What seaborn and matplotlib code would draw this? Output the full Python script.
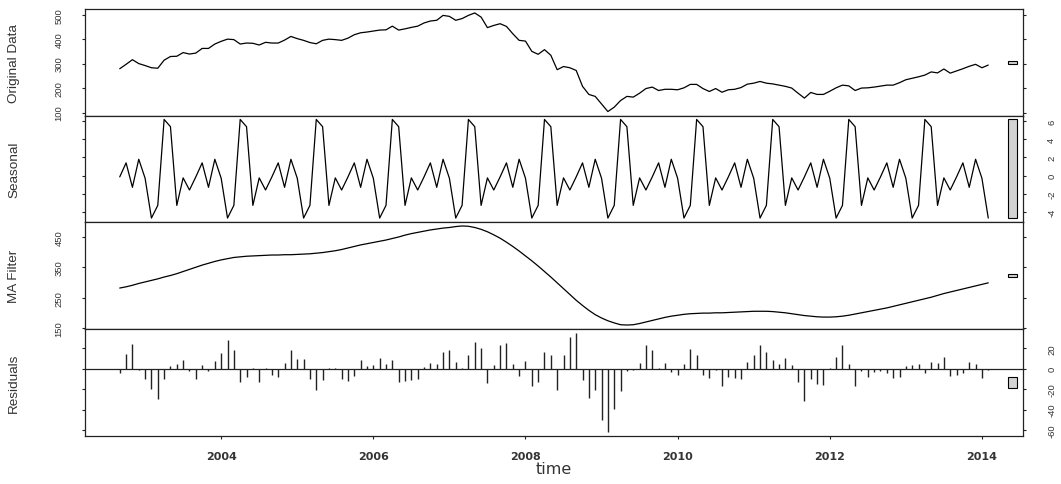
import numpy as np
import matplotlib
matplotlib.use("Agg")
import matplotlib.pyplot as plt
import seaborn as sns
from matplotlib import font_manager

# Monthly series, September 2002 .. February 2014
start_year = 2002
start_month = 9

original = [
    279, 297, 316, 300, 292, 283, 281, 314, 329, 330, 345, 339,
    343, 362, 362, 380, 391, 400, 398, 380, 384, 383, 376, 387,
    384, 384, 396, 411, 402, 395, 386, 381, 395, 400, 398, 395,
    404, 418, 426, 429, 433, 437, 438, 453, 437, 442, 448, 453,
    466, 474, 477, 497, 493, 477, 484, 497, 507, 490, 447, 456,
    463, 452, 422, 395, 392, 350, 338, 357, 334, 275, 288, 283,
    272, 207, 174, 166, 135, 104, 122, 149, 166, 163, 179, 198,
    204, 190, 195, 195, 193, 201, 215, 215, 198, 186, 198, 183,
    193, 195, 202, 216, 220, 227, 220, 217, 212, 207, 200, 179,
    159, 182, 174, 174, 187, 201, 212, 209, 190, 200, 201, 204,
    208, 212, 212, 222, 234, 240, 246, 253, 266, 262, 278, 261,
    270, 279, 289, 297, 283, 294,
]

seasonal = [
    -0.15, 1.4, -1.3, 1.8, -0.3, -4.7, -3.3, 6.2, 5.4, -3.3, -0.26, -1.6,
    -0.15, 1.4, -1.3, 1.8, -0.3, -4.7, -3.3, 6.2, 5.4, -3.3, -0.26, -1.6,
    -0.15, 1.4, -1.3, 1.8, -0.3, -4.7, -3.3, 6.2, 5.4, -3.3, -0.26, -1.6,
    -0.15, 1.4, -1.3, 1.8, -0.3, -4.7, -3.3, 6.2, 5.4, -3.3, -0.26, -1.6,
    -0.15, 1.4, -1.3, 1.8, -0.3, -4.7, -3.3, 6.2, 5.4, -3.3, -0.26, -1.6,
    -0.15, 1.4, -1.3, 1.8, -0.3, -4.7, -3.3, 6.2, 5.4, -3.3, -0.26, -1.6,
    -0.15, 1.4, -1.3, 1.8, -0.3, -4.7, -3.3, 6.2, 5.4, -3.3, -0.26, -1.6,
    -0.15, 1.4, -1.3, 1.8, -0.3, -4.7, -3.3, 6.2, 5.4, -3.3, -0.26, -1.6,
    -0.15, 1.4, -1.3, 1.8, -0.3, -4.7, -3.3, 6.2, 5.4, -3.3, -0.26, -1.6,
    -0.15, 1.4, -1.3, 1.8, -0.3, -4.7, -3.3, 6.2, 5.4, -3.3, -0.26, -1.6,
    -0.15, 1.4, -1.3, 1.8, -0.3, -4.7, -3.3, 6.2, 5.4, -3.3, -0.26, -1.6,
    -0.15, 1.4, -1.3, 1.8, -0.3, -4.7,
]

ma_filter = [
    282, 286, 291, 297, 302, 307, 312, 318, 323, 329, 336, 343,
    350, 357, 363, 369, 374, 378, 382, 384, 386, 387, 388, 389,
    390, 390, 391, 391, 392, 393, 394, 396, 398, 401, 404, 408,
    413, 418, 423, 427, 431, 435, 439, 444, 449, 455, 460, 464,
    468, 472, 475, 478, 480, 483, 485, 484, 480, 474, 466, 456,
    445, 432, 418, 403, 387, 371, 354, 336, 318, 299, 280, 261,
    242, 225, 209, 195, 184, 175, 168, 162, 161, 162, 166, 171,
    176, 181, 186, 190, 193, 196, 198, 199, 200, 200, 201, 201,
    202, 203, 204, 205, 206, 206, 206, 205, 203, 201, 198, 195,
    192, 190, 188, 187, 187, 188, 190, 193, 197, 201, 205, 209,
    213, 217, 222, 227, 232, 237, 242, 247, 252, 258, 264, 269,
    274, 279, 284, 289, 294, 299,
]

residuals = [
    -4, 14.7, 24.5, -1.6, -9.8, -20, -29.4, -10.5, 2.3, 4.9, 8.8, -2.3,
    -10.5, 3.9, -2.3, 7.2, 15.7, 27.8, 18, -13, -8.2, 0.6, -13, 0.6,
    -6.5, -8.2, 5.9, 18, 9.8, 9.8, -9.8, -21.2, -11.4, 0.6, 0.6, -10.5,
    -12, -7.2, 9, 2.3, 3.3, 10.5, 4.9, 8.8, -13, -12.4, -10.8, -10.5,
    1.3, 5.9, 4.9, 16.3, 18.6, 6.5, 0.3, 13, 26, 20, -14, 3.9,
    22.9, 25.2, 4.6, -7.5, 7.8, -17, -13, 16.3, 13, -21, 13.7, 31,
    35, -11.4, -28.8, -20.6, -50, -62, -39, -22, -2.3, -1.6, 5.6, 22.9,
    18.6, 0.3, 5.6, -3.3, -5.9, 4.9, 19.6, 13, -5.9, -9.2, -1.6, -17,
    -8.2, -9.2, -10.5, 6.5, 13, 23.5, 16.3, 8.8, 4.6, 10.5, 3.3, -13,
    -32, -10.5, -15.4, -16.3, 0.6, 11.4, 22.9, 4.9, -17, -2.3, -8.2, -3.3,
    -2.3, -4.2, -8.8, -8.2, 2.6, 3.3, 4.9, -4.2, 6.5, 5.9, 11.4, -7.5,
    -6.5, -4, 6.5, 4.9, -8.8, -1.6,
]

panel_titles = ["Original Data", "Seasonal", "MA Filter", "Residuals"]
panel_yticks = [
    [100, 200, 300, 400, 500],
    [-4, -2, 0, 2, 4, 6],
    [150, 250, 350, 450],
    [-60, -40, -20, 0, 20],
]
label_sides = ["left", "right", "left", "right"]
year_ticks = [2004, 2006, 2008, 2010, 2012, 2014]

sns.set_style("ticks")
available = {f.name for f in font_manager.fontManager.ttflist}
if "Liberation Sans Narrow" in available:
    label_family, title_size, ytick_size = "Liberation Sans Narrow", 11.8, 8.0
else:
    label_family, title_size, ytick_size = "Liberation Sans", 9.7, 6.8
plt.rcParams["font.family"] = [label_family, "DejaVu Sans"]
plt.rcParams["axes.unicode_minus"] = False

ink = "#222222"
text_ink = "#333333"

n = len(original)
t = start_year + (start_month - 1) / 12 + np.arange(n) / 12.0
span = t[-1] - t[0]
x_lo, x_hi = t[0] - 0.04 * span, t[-1] + 0.04 * span

series = [original, seasonal, ma_filter, residuals]
ranges = [(min(s), max(s)) for s in series]
bar_height = min(hi - lo for lo, hi in ranges)
dx = (x_hi - x_lo) / 64.0

W_PX, H_PX = 1061, 485
fig = plt.figure(figsize=(W_PX / 100, H_PX / 100), dpi=100)
edges = [10, 116.5, 223, 330, 437]
left_px, right_px = 85, 1023

axes = []
for k in range(4):
    top, bottom = edges[k], edges[k + 1]
    ax = fig.add_axes([left_px / W_PX, 1 - bottom / H_PX,
                       (right_px - left_px) / W_PX, (bottom - top) / H_PX])
    axes.append(ax)
    vals = np.asarray(series[k], dtype=float)
    if k == 3:
        ax.vlines(t, 0, vals, colors=ink, linewidth=1.0)
        ax.axhline(0, color=ink, linewidth=0.9)
    else:
        sns.lineplot(x=t, y=vals, ax=ax, color="black", linewidth=0.9,
                     estimator=None)
    lo, hi = ranges[k]
    pad = 0.04 * (hi - lo)
    ax.set_xlim(x_lo, x_hi)
    ax.set_ylim(lo - pad, hi + pad)

    # range bar: common scale reference at the right edge
    centre = (lo + hi) / 2
    ax.bar(x_hi - 0.7 * dx, bar_height, width=0.6 * dx,
           bottom=centre - bar_height / 2, color="#d3d3d3",
           edgecolor="black", linewidth=0.8)

    for sp in ax.spines.values():
        sp.set_visible(True)
        sp.set_color(ink)
        sp.set_linewidth(0.9)

    side = label_sides[k]
    ax.set_yticks(panel_yticks[k])
    ax.tick_params(axis="y", left=True, right=True,
                   labelleft=(side == "left"), labelright=(side == "right"),
                   labelrotation=90, direction="out", length=2.5, width=0.8,
                   labelsize=ytick_size, labelcolor=text_ink,
                   pad=(13 if side == "left" else 15), color=ink)
    for lbl in ax.get_yticklabels():
        lbl.set_verticalalignment("center")

    ax.set_xticks(year_ticks)
    ax.tick_params(axis="x", bottom=True, top=False,
                   labelbottom=(k == 3), direction="out", length=2.5,
                   width=0.8, color=ink)
    if k == 3:
        ax.set_xticks(year_ticks, labels=[str(y) for y in year_ticks],
                      fontsize=8, fontweight="bold", family="DejaVu Sans",
                      color=text_ink)
        ax.tick_params(axis="x", pad=8)

    ax.set_xlabel("")
    ax.set_ylabel(panel_titles[k], fontsize=title_size, color=text_ink,
                  va="center")
    ax.yaxis.set_label_position("left")
    ax.yaxis.set_label_coords((20 - left_px) / (right_px - left_px), 0.5)

axes[3].set_xlabel("time", fontsize=11.5, color=text_ink,
                   family="DejaVu Sans", va="center")
axes[3].xaxis.set_label_coords(0.5, (edges[4] - 470) / (edges[4] - edges[3]))

fig.savefig("out.png", dpi=100)
